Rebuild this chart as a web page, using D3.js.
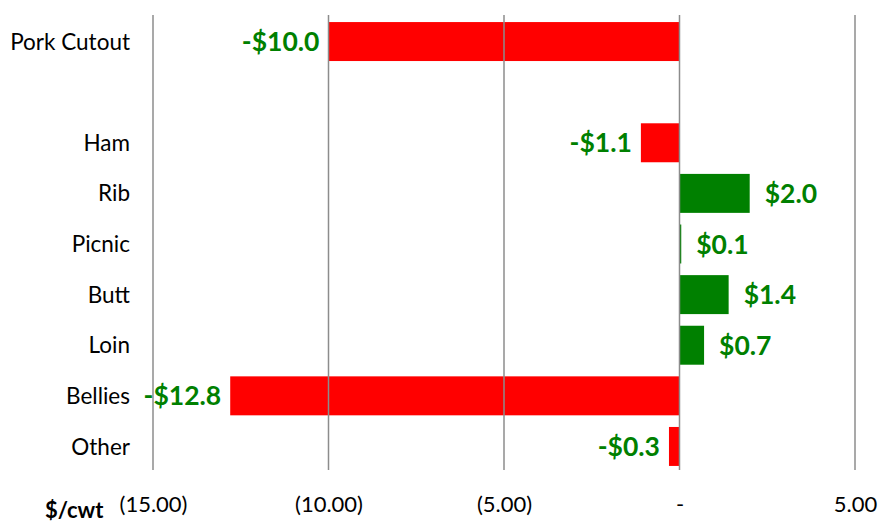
<!DOCTYPE html>
<html lang="en">
<head>
  <meta charset="UTF-8">
  <title>Pork Cutout Change</title>
  <script src="https://d3js.org/d3.v7.min.js"></script>
  <style>
    body { margin: 0; background: #fff; }
    svg { font-family: Lato, "Open Sans", sans-serif; }
  </style>
</head>
<body>
  <div id="chart"></div>
  <script>
    // Data
    const categories = ['Pork Cutout', ' ', 'Ham', 'Rib', 'Picnic', 'Butt', 'Loin', 'Bellies', 'Other'];
    const changes = [-10.0, null, -1.1, 2.0, 0.05, 1.4, 0.7, -12.8, -0.3];
    const tickValues = [-15, -10, -5, 0, 5];
    const tickLabels = ['(15.00)', '(10.00)', '(5.00)', '-', '5.00'];

    const width = 882, height = 525;

    const svg = d3.select('#chart')
      .append('svg')
      .attr('width', width)
      .attr('height', height);

    const x = d3.scaleLinear()
      .domain([-15, 5])
      .range([153, 855]);

    const y = d3.scaleBand()
      .domain(categories)
      .range([17, 471])
      .paddingInner(0.23)
      .paddingOuter(0.1);

    const rows = categories.map((c, i) => ({ cat: c, value: changes[i] }))
      .filter(d => d.value !== null);

    // Bars
    svg.append('g')
      .selectAll('rect')
      .data(rows)
      .join('rect')
      .attr('x', d => x(Math.min(0, d.value)))
      .attr('y', d => y(d.cat))
      .attr('width', d => Math.abs(x(d.value) - x(0)))
      .attr('height', y.bandwidth())
      .attr('fill', d => d.value < 0 ? '#ff0000' : '#008000');

    // Vertical gridlines
    svg.append('g')
      .selectAll('line')
      .data(tickValues)
      .join('line')
      .attr('x1', d => x(d))
      .attr('x2', d => x(d))
      .attr('y1', 15)
      .attr('y2', 470)
      .attr('stroke', '#8c8c8c')
      .attr('stroke-width', 1.5);

    // Value labels
    svg.append('g')
      .selectAll('text')
      .data(rows)
      .join('text')
      .attr('x', d => d.value < 0 ? x(d.value) - 9 : x(d.value) + 15)
      .attr('y', d => y(d.cat) + y.bandwidth() / 2)
      .attr('dy', '0.36em')
      .attr('text-anchor', d => d.value < 0 ? 'end' : 'start')
      .attr('fill', '#008000')
      .attr('font-weight', 'bold')
      .attr('font-size', 26.5)
      .text(d => (d.value < 0 ? '-$' : '$') + Math.abs(d.value).toFixed(1));

    // Category labels
    svg.append('g')
      .selectAll('text')
      .data(categories)
      .join('text')
      .attr('x', 130)
      .attr('y', d => y(d) + y.bandwidth() / 2)
      .attr('dy', '0.36em')
      .attr('text-anchor', 'end')
      .attr('font-size', 22.5)
      .attr('fill', '#000')
      .text(d => d);

    // X axis tick labels
    const xAxis = d3.axisBottom(x)
      .tickValues(tickValues)
      .tickSize(0)
      .tickPadding(0)
      .tickFormat((d, i) => tickLabels[i]);

    svg.append('g')
      .attr('transform', 'translate(0,496)')
      .call(xAxis)
      .call(g => g.select('.domain').remove())
      .call(g => g.selectAll('text')
        .attr('font-family', 'Lato, "Open Sans", sans-serif')
        .attr('font-size', 22)
        .attr('fill', '#000'));

    // Unit label
    svg.append('text')
      .attr('x', 45)
      .attr('y', 518)
      .attr('font-weight', 'bold')
      .attr('font-size', 22)
      .attr('fill', '#000')
      .text('$/cwt');
  </script>
</body>
</html>
